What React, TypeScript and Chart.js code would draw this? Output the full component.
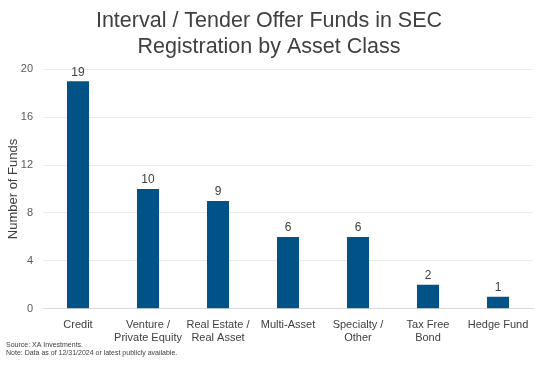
import React, { useEffect, useRef } from "react";
import { Chart, registerables } from "chart.js";

Chart.register(...registerables);

const categories: (string | string[])[] = [
  "Credit",
  ["Venture /", "Private Equity"],
  ["Real Estate /", "Real Asset"],
  "Multi-Asset",
  ["Specialty /", "Other"],
  ["Tax Free", "Bond"],
  "Hedge Fund",
];
const fundCounts = [19, 10, 9, 6, 6, 2, 1];
const yTicks = [0, 4, 8, 12, 16, 20];
const titleLines = ["Interval / Tender Offer Funds in SEC", "Registration by Asset Class"];
const sourceLines = ["Source: XA Investments.", "Note: Data as of 12/31/2024 or latest publicly available."];

const FONT = "'Liberation Sans', Arial, sans-serif";
const TEXT = "#404040";

const valueLabels = {
  id: "valueLabels",
  afterDatasetsDraw(chart: any) {
    const ctx = chart.ctx;
    const meta = chart.getDatasetMeta(0);
    ctx.save();
    ctx.font = `12px ${FONT}`;
    ctx.fillStyle = TEXT;
    ctx.textAlign = "center";
    ctx.textBaseline = "bottom";
    meta.data.forEach((el: any, i: number) => {
      ctx.fillText(String(fundCounts[i]), el.x, el.y - 3);
    });
    ctx.restore();
  },
};

const sourceNote = {
  id: "sourceNote",
  afterDraw(chart: any) {
    const ctx = chart.ctx;
    ctx.save();
    ctx.font = `7px ${FONT}`;
    ctx.fillStyle = TEXT;
    ctx.textAlign = "left";
    ctx.textBaseline = "middle";
    sourceLines.forEach((line, i) => {
      ctx.fillText(line, 6, chart.height - 26 + i * 8.5);
    });
    ctx.restore();
  },
};

export default function App() {
  const ref = useRef<HTMLCanvasElement | null>(null);
  useEffect(() => {
    if (!ref.current) return;
    const chart = new Chart(ref.current, {
      type: "bar",
      data: {
        labels: categories,
        datasets: [
          {
            data: fundCounts,
            backgroundColor: "#005287",
            borderWidth: 0,
            barPercentage: 0.63,
            categoryPercentage: 0.5,
          },
        ],
      },
      options: {
        animation: false,
        responsive: false,
        maintainAspectRatio: false,
        layout: { padding: { left: 5, right: 12, top: 9, bottom: 25 } },
        plugins: {
          legend: { display: false },
          tooltip: { enabled: false },
          title: {
            display: true,
            text: titleLines,
            color: TEXT,
            font: { family: FONT, size: 21.5, weight: "normal", lineHeight: 1.17 },
            padding: { top: 0, bottom: 10 },
          },
        },
        scales: {
          x: {
            grid: { display: false },
            border: { color: "#d9d9d9" },
            ticks: {
              color: TEXT,
              font: { family: FONT, size: 11, lineHeight: 1.15 },
              maxRotation: 0,
              autoSkip: false,
              padding: 2,
            },
          },
          y: {
            min: 0,
            max: 20,
            afterBuildTicks: (axis: any) => {
              axis.ticks = yTicks.map((v) => ({ value: v }));
            },
            afterFit: (axis: any) => {
              axis.width = 38;
            },
            grid: { color: "#ececec", drawTicks: false },
            border: { display: false },
            ticks: {
              color: "#595959",
              font: { family: FONT, size: 11 },
              padding: 10,
            },
            title: {
              display: true,
              text: "Number of Funds",
              color: TEXT,
              font: { family: FONT, size: 13 },
              padding: { top: 1, bottom: 2 },
            },
          },
        },
      },
      plugins: [valueLabels, sourceNote],
    });
    return () => chart.destroy();
  }, []);
  return (
    <div style={{ position: "fixed", left: 0, top: 0, width: 545, height: 371, background: "#fff" }}>
      <canvas ref={ref} width={545} height={371} style={{ display: "block" }} />
    </div>
  );
}
